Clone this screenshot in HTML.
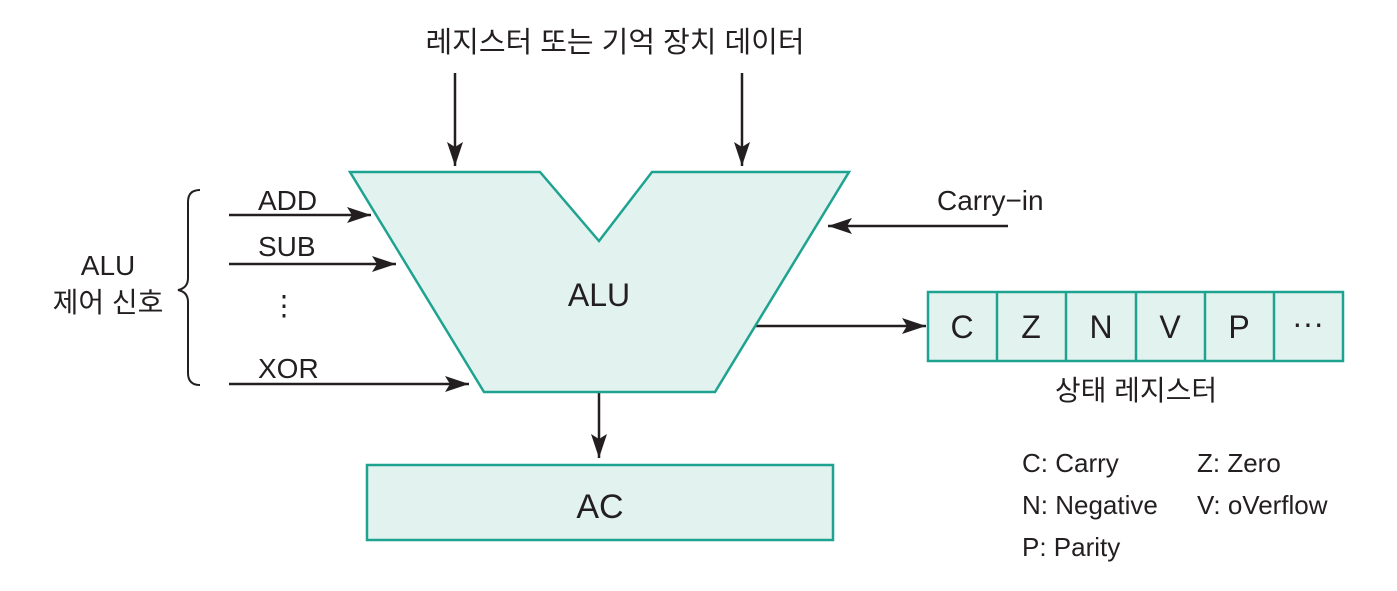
<!DOCTYPE html>
<html><head><meta charset="utf-8"><style>
body{margin:0;background:#fff;width:1397px;height:586px;overflow:hidden}
svg text{font-family:"Liberation Sans","Noto Sans CJK KR",sans-serif;fill:#231f20}
</style></head><body>
<svg width="1397" height="586" viewBox="0 0 1397 586">
<defs><marker id="a" markerWidth="10" markerHeight="10" refX="9" refY="5" orient="auto" markerUnits="userSpaceOnUse"><path d="M0,0 L0,0 L26,5 L0,10 Z" transform="scale(1)" fill="#231f20"/></marker>
<marker id="b" viewBox="0 0 24 16" markerWidth="24" markerHeight="16" refX="24" refY="8" orient="auto" markerUnits="userSpaceOnUse"><path d="M0,0 L24,8 L0,16 L5,8 Z" fill="#231f20"/></marker></defs>
<text x="615" y="52" font-size="29" text-anchor="middle">레지스터 또는 기억 장치 데이터</text>
<g stroke="#231f20" stroke-width="2.5" fill="none">
<line x1="455" y1="73" x2="455" y2="166" marker-end="url(#b)"/>
<line x1="742" y1="73" x2="742" y2="166" marker-end="url(#b)"/>
<line x1="1008" y1="226" x2="828" y2="226" marker-end="url(#b)"/>
<line x1="229" y1="215" x2="371" y2="215" marker-end="url(#b)"/>
<line x1="229" y1="264" x2="396" y2="264" marker-end="url(#b)"/>
<line x1="229" y1="384" x2="469" y2="384" marker-end="url(#b)"/>
<line x1="755" y1="326" x2="926" y2="326" marker-end="url(#b)"/>
<line x1="599" y1="393" x2="599" y2="458" marker-end="url(#b)"/>
<path d="M200,190 Q188,190 188,202 L188,278 Q188,288 178,290 Q188,292 188,302 L188,373 Q188,385 200,385" stroke-width="2"/>
</g>
<polygon points="350,172 540,172 599,241 652,172 849,172 715,392 484,392" fill="#e2f2ee" stroke="#1fa391" stroke-width="2.5"/>
<text x="599" y="306" font-size="32" text-anchor="middle">ALU</text>
<rect x="367" y="465" width="466" height="75" fill="#e2f2ee" stroke="#1fa391" stroke-width="2.5"/>
<text x="600" y="518" font-size="34" text-anchor="middle">AC</text>
<g fill="#e2f2ee" stroke="#1fa391" stroke-width="2.5">
<rect x="928" y="292" width="415" height="69"/>
<line x1="997" y1="292" x2="997" y2="361"/><line x1="1066" y1="292" x2="1066" y2="361"/><line x1="1136" y1="292" x2="1136" y2="361"/><line x1="1205" y1="292" x2="1205" y2="361"/><line x1="1274" y1="292" x2="1274" y2="361"/>
</g>
<g font-size="32" text-anchor="middle">
<text x="962" y="338">C</text><text x="1031" y="338">Z</text><text x="1101" y="338">N</text><text x="1170" y="338">V</text><text x="1239" y="338">P</text><text x="1308" y="334">···</text>
</g>
<text x="1136" y="400" font-size="28" text-anchor="middle">상태 레지스터</text>
<text x="937" y="210" font-size="28">Carry−in</text>
<text x="258" y="210" font-size="28">ADD</text>
<text x="258" y="256" font-size="28">SUB</text>
<text x="284" y="315" font-size="28" text-anchor="middle">⋮</text>
<text x="258" y="378" font-size="28">XOR</text>
<text x="108" y="275" font-size="28" text-anchor="middle">ALU</text>
<text x="108" y="312" font-size="28" text-anchor="middle">제어 신호</text>
<g font-size="26">
<text x="1022" y="472">C: Carry</text><text x="1197" y="472">Z: Zero</text>
<text x="1022" y="514">N: Negative</text><text x="1197" y="514">V: oVerflow</text>
<text x="1022" y="556">P: Parity</text>
</g>
</svg>
</body></html>
